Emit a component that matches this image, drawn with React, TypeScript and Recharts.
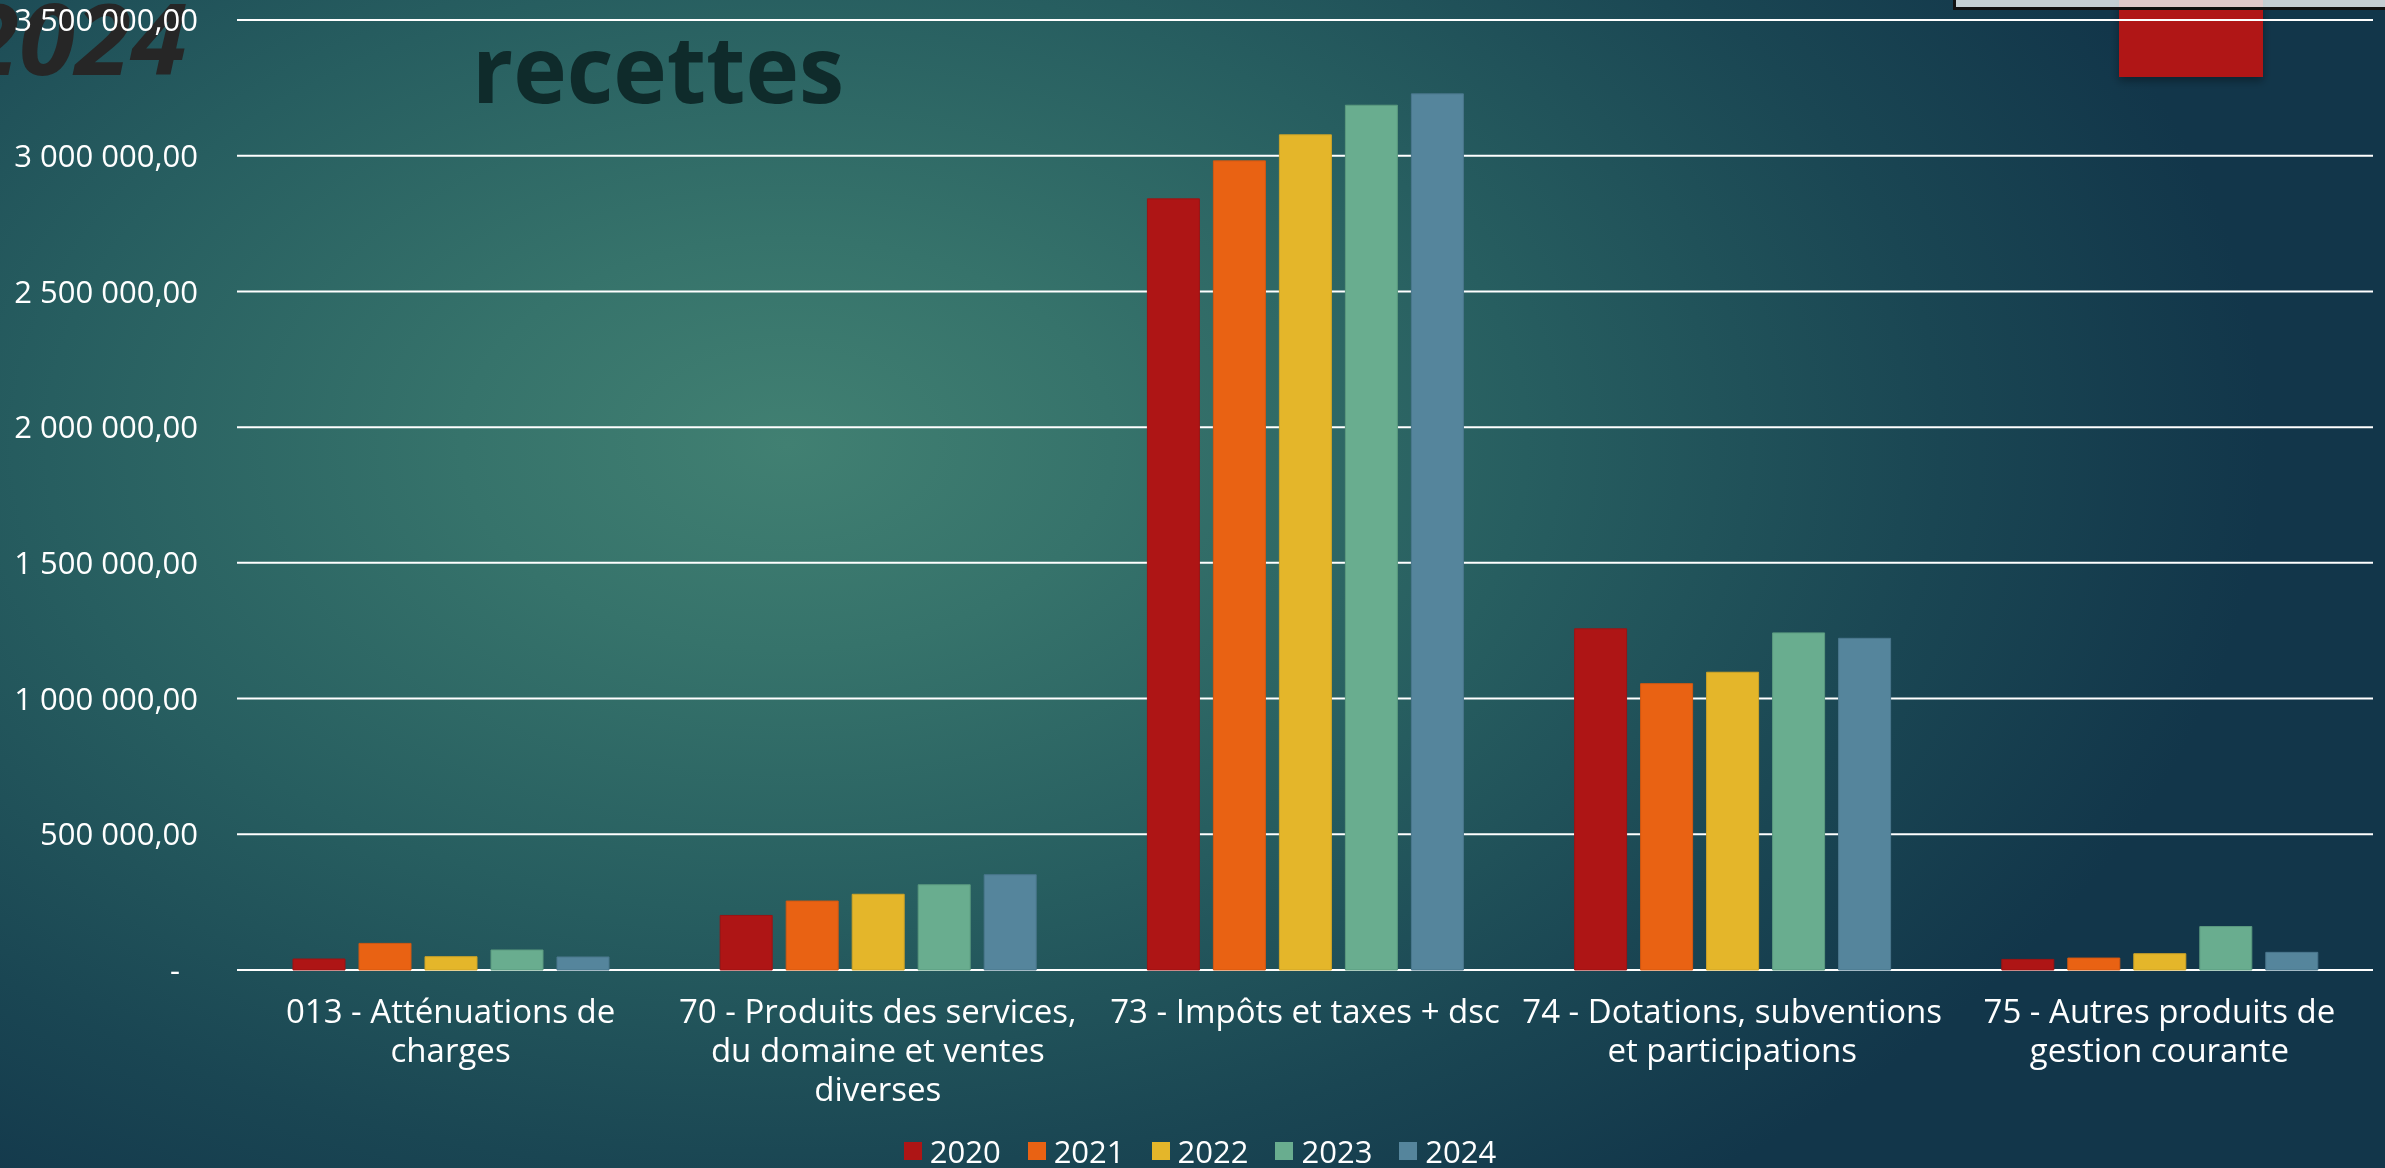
import React from 'react';
import { BarChart, Bar, XAxis, YAxis, CartesianGrid, Legend } from 'recharts';

const categories = [
  '013 - Atténuations de charges',
  '70 - Produits des services, du domaine et ventes diverses',
  '73 - Impôts et taxes + dsc',
  '74 - Dotations, subventions et participations',
  '75 - Autres produits de gestion courante',
];
const years = ['2020', '2021', '2022', '2023', '2024'];
const values2020 = [40500, 201000, 2841000, 1257000, 39000];
const values2021 = [98000, 254000, 2981000, 1055000, 44000];
const values2022 = [49000, 279000, 3077000, 1097000, 60000];
const values2023 = [73700, 314000, 3186000, 1242000, 160000];
const values2024 = [48000, 351000, 3228000, 1222000, 65000];
const yTicks = [0, 500000, 1000000, 1500000, 2000000, 2500000, 3000000, 3500000];
const titleYear = '2024';
const titleWord = 'recettes';

const colors = ['#ae1515', '#e96213', '#e4b62a', '#69ad8f', '#55859c'];
const strokes = ['#9c1313', '#d45811', '#cfa426', '#5b9a7f', '#4a778d'];
const seriesValues = [values2020, values2021, values2022, values2023, values2024];

const data = categories.map((c, i) => {
  const row: any = { name: c };
  years.forEach((y, k) => { row[y] = seriesValues[k][i]; });
  return row;
});

const FONT = '"Open Sans", "DejaVu Sans", sans-serif';
const X_FONT_SIZE = 33;

const fmt = (v: number) => {
  if (v === 0) return '-';
  return String(Math.round(v)).replace(/\B(?=(\d{3})+(?!\d))/g, ' ') + ',00';
};

let ctx: CanvasRenderingContext2D | null = null;
const measure = (t: string) => {
  if (!ctx && typeof document !== 'undefined') {
    ctx = document.createElement('canvas').getContext('2d');
  }
  if (!ctx) return t.length * X_FONT_SIZE * 0.5;
  ctx.font = `${X_FONT_SIZE}px "Open Sans"`;
  return ctx.measureText(t).width;
};

const wrap = (text: string, maxW: number) => {
  const words = text.split(' ');
  const lines: string[] = [];
  let cur = '';
  words.forEach((w) => {
    const cand = cur ? cur + ' ' + w : w;
    if (cur && measure(cand) > maxW) {
      lines.push(cur);
      cur = w;
    } else {
      cur = cand;
    }
  });
  if (cur) lines.push(cur);
  return lines;
};

const XTick = (props: any) => {
  const { x, y, payload } = props;
  const lines = wrap(String(payload.value), 430);
  return (
    <text x={x} y={y} textAnchor="middle" fill="#ffffff" fontSize={X_FONT_SIZE} fontFamily={FONT}>
      {lines.map((l, i) => (
        <tspan key={i} x={x} dy={i === 0 ? 53 : 39}>{l}</tspan>
      ))}
    </text>
  );
};

const YTick = (props: any) => {
  const { x, y, payload } = props;
  const v = payload.value as number;
  return (
    <text x={v === 0 ? x - 18 : x} y={y} dy="0.36em" textAnchor="end" fill="#ffffff" fontSize={31} fontFamily={FONT}>
      {fmt(v)}
    </text>
  );
};

const LegendContent = () => (
  <div style={{ display: 'flex', justifyContent: 'center', alignItems: 'center', height: 48, paddingTop: 14, boxSizing: 'border-box', paddingLeft: 27 }}>
    {years.map((yr, i) => (
      <div key={yr} style={{ display: 'flex', alignItems: 'center', marginRight: i < years.length - 1 ? 27 : 0 }}>
        <span style={{ display: 'inline-block', width: 18, height: 18, background: colors[i], marginRight: 8 }} />
        <span style={{ color: '#ffffff', fontSize: 31, fontFamily: FONT, lineHeight: '34px' }}>{yr}</span>
      </div>
    ))}
  </div>
);

export default function App() {
  return (
    <div
      style={{
        position: 'fixed',
        top: 0,
        left: 0,
        width: 2385,
        height: 1168,
        overflow: 'hidden',
        background:
          'radial-gradient(ellipse 62% 80% at 33% 38%, #418072 0%, #36736b 22%, #275e60 50%, #1a4653 78%, #12364a 100%)',
      }}
    >
      <svg width={2385} height={1168} style={{ position: 'absolute', top: 0, left: 0 }}>
        <defs>
          <filter id="sh" x="-20%" y="-20%" width="140%" height="160%">
            <feDropShadow dx="0" dy="4" stdDeviation="4" floodColor="#000" floodOpacity="0.35" />
          </filter>
        </defs>
        <text x={-37} y={75} fontSize={98} fontWeight="bold" fontStyle="italic" fill="#262626" fontFamily={FONT} textLength={224} lengthAdjust="spacingAndGlyphs">
          {titleYear}
        </text>
        <text x={472} y={103} fontSize={93} fontWeight="bold" fill="#0f2b2b" fontFamily={FONT} textLength={372} lengthAdjust="spacingAndGlyphs">
          {titleWord}
        </text>
        <rect x={2119} y={-10} width={144} height={87} fill="#b01616" filter="url(#sh)" />
        <rect x={1954.5} y={-20} width={440} height={28.5} fill="rgba(236,240,242,0.82)" stroke="#111" strokeWidth={3} />
      </svg>
      <div style={{ position: 'absolute', top: 0, left: 0 }}>
        <BarChart
          width={2385}
          height={1168}
          data={data}
          margin={{ top: 20, right: 12, bottom: 0, left: 0 }}
          barCategoryGap={56}
          barGap={14}
        >
          <CartesianGrid vertical={false} stroke="#ffffff" strokeWidth={2} />
          <XAxis
            dataKey="name"
            axisLine={false}
            tickLine={false}
            tickSize={0}
            tickMargin={0}
            height={150}
            interval={0}
            tick={<XTick />}
          />
          <YAxis
            width={237}
            domain={[0, 3500000]}
            ticks={yTicks}
            interval={0}
            axisLine={false}
            tickLine={false}
            tickSize={0}
            tickMargin={39}
            tick={<YTick />}
          />
          <Legend verticalAlign="bottom" height={48} content={<LegendContent />} />
          {years.map((yr, i) => (
            <Bar key={yr} dataKey={yr} fill={colors[i]} stroke={strokes[i]} strokeWidth={1} isAnimationActive={false} />
          ))}
        </BarChart>
      </div>
    </div>
  );
}
